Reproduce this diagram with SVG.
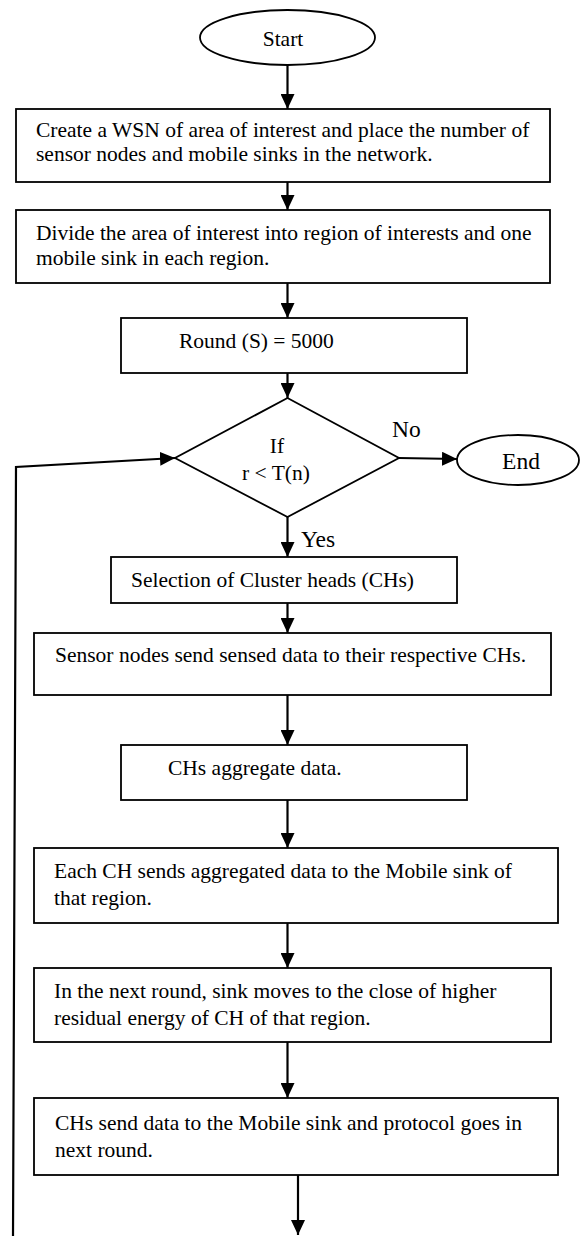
<svg xmlns="http://www.w3.org/2000/svg" width="587" height="1236" viewBox="0 0 587 1236">
<style>
.shape{fill:#fff;stroke:#000;stroke-width:1.8}
.t{font-family:"Liberation Serif","Times New Roman",serif;font-size:21.5px;fill:#000}
.tl{font-family:"Liberation Serif","Times New Roman",serif;font-size:23.5px;fill:#000}
.c{stroke:#000;stroke-width:2.2;fill:none}
</style>
<defs>
<marker id="ah" viewBox="0 0 15 14" refX="15" refY="7" markerWidth="15" markerHeight="14" markerUnits="userSpaceOnUse" orient="auto">
<path d="M0,0 L15,7 L0,14 z" fill="#000"/>
</marker>
</defs>
<rect width="587" height="1236" fill="#fff"/>
<g id="connectors">
<line class="c" x1="287.5" y1="65" x2="287.5" y2="109" marker-end="url(#ah)"/>
<line class="c" x1="287.5" y1="182" x2="287.5" y2="210" marker-end="url(#ah)"/>
<line class="c" x1="287.5" y1="283" x2="287.5" y2="318" marker-end="url(#ah)"/>
<line class="c" x1="287.5" y1="373" x2="287.5" y2="398" marker-end="url(#ah)"/>
<line class="c" x1="399" y1="458" x2="457" y2="459" marker-end="url(#ah)"/>
<line class="c" x1="287.5" y1="517" x2="287.5" y2="557" marker-end="url(#ah)"/>
<line class="c" x1="287.5" y1="603" x2="287.5" y2="633" marker-end="url(#ah)"/>
<line class="c" x1="287.5" y1="695" x2="287.5" y2="745" marker-end="url(#ah)"/>
<line class="c" x1="287.5" y1="800" x2="287.5" y2="848" marker-end="url(#ah)"/>
<line class="c" x1="287.5" y1="923" x2="287.5" y2="968" marker-end="url(#ah)"/>
<line class="c" x1="287.5" y1="1042" x2="287.5" y2="1098" marker-end="url(#ah)"/>
<line class="c" x1="298" y1="1175" x2="298" y2="1235" marker-end="url(#ah)"/>
<polyline class="c" points="13,1236 16,467 175,458" marker-end="url(#ah)"/>
<text class="tl" x="392" y="437">No</text>
<text class="tl" x="301" y="547">Yes</text>
</g>
<g id="start">
<ellipse class="shape" cx="287.5" cy="37.5" rx="87.5" ry="27.5"/>
<text class="t" x="283" y="46" text-anchor="middle">Start</text>
</g>
<g id="create">
<rect class="shape" x="16" y="109" width="534" height="73"/>
<text class="t" x="36" y="137">Create a WSN of area of interest and place the number of</text>
<text class="t" x="36" y="161">sensor nodes and mobile sinks in the network.</text>
</g>
<g id="divide">
<rect class="shape" x="16" y="210" width="534" height="73"/>
<text class="t" x="36" y="240">Divide the area of interest into region of interests and one</text>
<text class="t" x="36" y="265">mobile sink in each region.</text>
</g>
<g id="round">
<rect class="shape" x="121" y="318" width="346" height="55"/>
<text class="t" x="179" y="348">Round (S) = 5000</text>
</g>
<g id="decision">
<polygon class="shape" points="287.5,398 399,458 287.5,517 175,458"/>
<text class="t" x="277" y="453" text-anchor="middle">If</text>
<text class="t" x="276" y="480" text-anchor="middle">r &lt; T(n)</text>
</g>
<g id="end">
<ellipse class="shape" cx="518" cy="460" rx="61" ry="25"/>
<text class="tl" x="521" y="469" text-anchor="middle">End</text>
</g>
<g id="selection">
<rect class="shape" x="111" y="557" width="346" height="46"/>
<text class="t" x="131" y="587">Selection of Cluster heads (CHs)</text>
</g>
<g id="sensor">
<rect class="shape" x="34" y="633" width="517" height="62"/>
<text class="t" x="55" y="662">Sensor nodes send sensed data to their respective CHs.</text>
</g>
<g id="aggregate">
<rect class="shape" x="121" y="745" width="346" height="55"/>
<text class="t" x="168" y="775">CHs aggregate data.</text>
</g>
<g id="eachch">
<rect class="shape" x="34" y="848" width="524" height="75"/>
<text class="t" x="54" y="878">Each CH sends aggregated data to the Mobile sink of</text>
<text class="t" x="54" y="905">that region.</text>
</g>
<g id="nextround">
<rect class="shape" x="34" y="968" width="517" height="74"/>
<text class="t" x="54" y="998">In the next round, sink moves to the close of higher</text>
<text class="t" x="54" y="1025">residual energy of CH of that region.</text>
</g>
<g id="send">
<rect class="shape" x="34" y="1098" width="524" height="77"/>
<text class="t" x="55" y="1130">CHs send data to the Mobile sink and protocol goes in</text>
<text class="t" x="55" y="1157">next round.</text>
</g>
</svg>
